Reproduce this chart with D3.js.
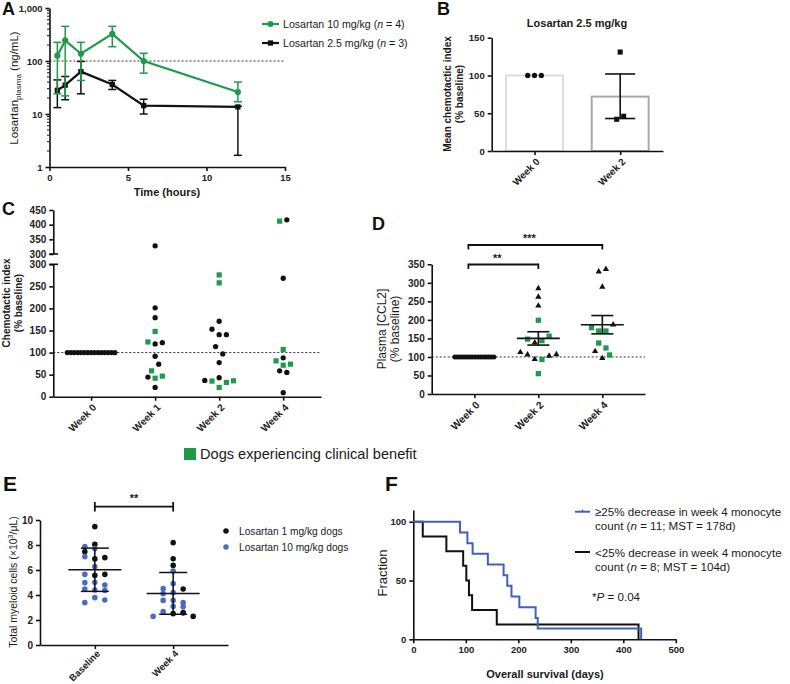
<!DOCTYPE html>
<html><head><meta charset="utf-8">
<script src="https://cdn.jsdelivr.net/npm/d3@7"></script>
<style>body{margin:0;background:#fff}svg{display:block}</style>
</head><body><svg id="c" width="790" height="684"></svg>
<script>
// ===== DATA =====
// Panel A: pharmacokinetics
const pkTimes = [0.5, 1, 2, 4, 6, 12];
const pk10Mean = [126, 245, 137, 324, 100, 26];
const pk10Low  = [24, 22, 43, 186, 59, 17];
const pk10High = [225, 451, 225, 451, 140, 40];
const pk25Mean = [28, 35, 63, 36, 14.4, 13.6];
const pk25Low  = [13.2, 18.6, 24, 29, 10, 1.66];
const pk25High = [44, 51, 98, 43, 19, 14];
const aXTicks = [0, 5, 10, 15];
const aYTicks = [1, 10, 100, 1000];
const aLegend = ["Losartan 10 mg/kg", "Losartan 2.5 mg/kg"];
const aLegendN = ["4", "3"];

// Panel B
const bCats = ["Week 0", "Week 2"];
const bMeans = [100, 72];
const bSemLow = [null, 43];
const bSemHigh = [null, 102];
const bWeek0Vals = [100, 100, 100];
const bWeek0Slots = [-2, 0, 2];
const bWeek2Vals = [131, 42, 46];
const bWeek2Slots = [0, -1, 1];
const bYTicks = [0, 50, 100, 150];

// Panel C: chemotactic index (g = clinical benefit dog)
const cCats = ["Week 0", "Week 1", "Week 2", "Week 4"];
const cWeek0Vals = [100,100,100,100,100,100,100,100,100,100,100,100,100,100,100];
const cWeek1Vals = [328, 201.5, 179, 148, 124, 119.5, 122.5, 91.7, 73.7, 58.6, 46.6, 42, 44.4, 21];
const cWeek1Grp  = ["b","b","b","g","g","b","b","b","b","g","g","g","b","b"];
const cWeek1Slot = [0, 0, 0, 0, -2, 0, 2, 0, 1, -1, 2, 0, -2, 0];
const cWeek2Vals = [276, 258, 171, 153, 140.6, 140.6, 113.5, 97, 77.4, 42.9, 36.8, 35.3, 21, 32.3, 36];
const cWeek2Grp  = ["g","g","b","b","b","b","b","b","b","b","b","g","g","g","g"];
const cWeek2Slot = [0, 0, 0, -2, 0, 2, -1, 1, 0, 0, -4, -2, 0, 2, 4];
const cWeek4Vals = [412, 416.5, 268.4, 106.8, 88, 81.2, 71.4, 73.7, 58.6, 54.9, 9];
const cWeek4Grp  = ["g","b","b","g","b","g","g","g","b","b","b"];
const cWeek4Slot = [-1, 1, 0, 0, 0, -2, 0, 2, -1, 1, 0];
const cLowTicks = [0, 50, 100, 150, 200, 250, 300];
const cHighTicks = [300, 350, 400, 450];

// Panel D: plasma CCL2 (t = triangle, g = clinical benefit)
const dCats = ["Week 0", "Week 2", "Week 4"];
const dWeek0Vals = [100,100,100,100,100,100,100,100,100,100,100,100,100,100,100,100];
const dWeek2Vals = [285, 262, 238, 199, 148, 144, 156, 138.5, 112.5, 106, 93.6, 93, 102.6, 107, 55];
const dWeek2Grp  = ["t","t","t","g","g","g","g","t","t","t","t","g","t","t","g"];
const dWeek2Slot = [0, 0, 0, 0, -3, 1, 3, -1, -5, -3, -1, 1, 3, 5, 0];
const dWeek4Vals = [330, 337, 289, 187, 179, 170, 170, 137.6, 124.2, 115.2, 105.3, 96.3];
const dWeek4Grp  = ["t","t","t","t","g","g","g","g","g","t","g","t"];
const dWeek4Slot = [-1, 1, 0, 3, -3, -1, 1, -1, 1, -2, 2, 0];
const dMeans = [150, 187];
const dSem = [18, 24.7];
const dYTicks = [0, 50, 100, 150, 200, 250, 300, 350];

// Panel E: total myeloid cells (k = 1 mg/kg black, u = 10 mg/kg blue)
const eCats = ["Baseline", "Week 4"];
const eBaseVals = [9.47, 8.05, 7.87, 7.71, 7.47, 7.07, 6.89, 6.99, 6.27, 5.65, 5.57, 5.65, 4.99, 5.01, 4.48, 4.8, 4.4, 4.37, 3.79, 3.39, 3.6];
const eBaseGrp  = ["k","k","u","u","k","u","k","k","u","u","k","k","u","u","u","u","u","u","u","u","u"];
const eBaseSlot = [0, 0, -1, 0, -1, -1, 0, 1, 0, -1, 0, 1, -1, 0, -1, 1, 0, 1, 0, -1, 1];
const eW4Vals = [8.19, 6.9, 6.37, 5.92, 4.91, 4.51, 4.48, 4.11, 4.19, 3.57, 3.57, 3.39, 3.09, 3.07, 2.67, 2.61, 2.51, 2.57, 2.29, 2.29];
const eW4Grp  = ["k","k","k","u","u","u","k","u","u","u","u","u","u","u","u","u","k","k","u","k"];
const eW4Slot = [0, 0, 0, 0, 0, -1, 1, -1, 0, -1, 0, 1, 0, 1, -1, 1, 0, 1, -2, 2];
const eMeans = [6.02, 4.13];
const eSD = [1.73, 1.67];
const eYTicks = [0, 2, 4, 6, 8, 10];
const eLegend = ["Losartan 1 mg/kg dogs", "Losartan 10 mg/kg dogs"];

// Panel F: survival (days of death)
const fHighDrop = [89, 103, 113, 142, 172, 179, 187, 202, 233, 237, 434];
const fLowDrop = [18, 63, 95, 101, 106, 112, 159, 429];
const fXTicks = [0, 100, 200, 300, 400, 500];
const fYTicks = [0, 50, 100];

// ===== STYLE =====
const FONT = '"Liberation Sans", Arial, Helvetica, sans-serif';
const GREEN = "#1f9a4c";
const BLUE = "#4a6cbd";
const FBLUE = "#3f62b8";
const INK = "#111";
const svg = d3.select("#c");

function styleAxis(g, fs) {
  g.attr("font-family", FONT).attr("font-size", fs || 9.5).attr("font-weight", "bold");
  g.select(".domain").attr("stroke", INK).attr("stroke-width", 1.6);
  g.selectAll(".tick line").attr("stroke", INK).attr("stroke-width", 1.6);
  g.selectAll(".tick text").attr("fill", "#222");
}
function rotLabels(g, dy) {
  g.selectAll(".tick text").attr("text-anchor", "end").attr("x", 0).attr("y", 0)
    .attr("dy", "0.35em").attr("transform", `translate(3,${dy || 9}) rotate(-45)`);
}
function txt(x, y, s, o) {
  o = o || {};
  const t = svg.append("text").attr("x", x).attr("y", y).text(s)
    .attr("font-family", FONT).attr("font-size", o.fs || 11)
    .attr("font-weight", o.bold ? "bold" : "normal")
    .attr("text-anchor", o.anchor || "start").attr("fill", o.fill || "#1a1a1a");
  if (o.rot) t.attr("transform", `rotate(-90,${x},${y})`);
  return t;
}
function sym(g, type, x, y, size, fill) {
  g.append("path").attr("d", d3.symbol().type(type).size(size)())
    .attr("transform", `translate(${x},${y})`).attr("fill", fill);
}
function dashed(x1, x2, y) {
  svg.append("line").attr("x1", x1).attr("x2", x2).attr("y1", y).attr("y2", y)
    .attr("stroke", "#333").attr("stroke-width", 1).attr("stroke-dasharray", "2,2");
}
function hline(x1, x2, y, w) {
  svg.append("line").attr("x1", x1).attr("x2", x2).attr("y1", y).attr("y2", y)
    .attr("stroke", INK).attr("stroke-width", w || 1.6);
}
function vline(x, y1, y2, w, c) {
  svg.append("line").attr("x1", x).attr("x2", x).attr("y1", y1).attr("y2", y2)
    .attr("stroke", c || INK).attr("stroke-width", w || 1.6);
}

// panel letters
[["A",2,15,18],["B",437,15,18],["C",2,215,18],["D",372,230,18],["E",3,491,21],["F",385,491,21]]
  .forEach(([l,x,y,fs]) => txt(x, y, l, {fs: fs, bold: true, fill: "#111"}));

// ===== PANEL A =====
(function(){
  const x = d3.scaleLinear().domain([0, 15]).range([49.5, 285]);
  const y = d3.scaleLog().domain([1, 1000]).range([167, 8]);
  dashed(x(0), x(15), y(100));
  const minor = [];
  [1, 10, 100].forEach(d => { for (let k = 2; k <= 9; k++) minor.push(d * k); });
  svg.append("g").selectAll("line").data(minor).join("line")
    .attr("x1", x(0) - 2.5).attr("x2", x(0)).attr("y1", d => y(d)).attr("y2", d => y(d))
    .attr("stroke", INK).attr("stroke-width", 1);
  const gx = svg.append("g").attr("transform", `translate(0,${y(1)})`)
    .call(d3.axisBottom(x).tickValues(aXTicks).tickSize(4).tickSizeOuter(0));
  styleAxis(gx, 9.5);
  const gy = svg.append("g").attr("transform", `translate(${x(0)},0)`)
    .call(d3.axisLeft(y).tickValues(aYTicks).tickFormat(d3.format(",")).tickSize(4).tickSizeOuter(0));
  styleAxis(gy, 9.5);

  function series(mean, lo, hi, color, marker) {
    const g = svg.append("g");
    pkTimes.forEach((t, i) => {
      const cx = x(t);
      g.append("line").attr("x1", cx).attr("x2", cx).attr("y1", y(lo[i])).attr("y2", y(hi[i])).attr("stroke", color).attr("stroke-width", 1.5);
      [lo[i], hi[i]].forEach(v => g.append("line").attr("x1", cx - 4).attr("x2", cx + 4).attr("y1", y(v)).attr("y2", y(v)).attr("stroke", color).attr("stroke-width", 1.5));
    });
    g.append("path").datum(pkTimes.map((t, i) => [t, mean[i]]))
      .attr("d", d3.line().x(d => x(d[0])).y(d => y(d[1])))
      .attr("fill", "none").attr("stroke", color).attr("stroke-width", 2.2);
    pkTimes.forEach((t, i) => sym(g, marker, x(t), y(mean[i]), marker === d3.symbolCircle ? 30 : 28, color));
  }
  series(pk25Mean, pk25Low, pk25High, INK, d3.symbolSquare);
  series(pk10Mean, pk10Low, pk10High, GREEN, d3.symbolCircle);

  // legend
  const cols = [GREEN, INK], marks = [d3.symbolCircle, d3.symbolSquare];
  aLegend.forEach((s, i) => {
    const yy = 24 + i * 19;
    svg.append("line").attr("x1", 262).attr("x2", 279).attr("y1", yy).attr("y2", yy).attr("stroke", cols[i]).attr("stroke-width", 2.2);
    sym(svg, marks[i], 270.5, yy, 28, cols[i]);
    const t = txt(283, yy + 4, s + " (", {fs: 10.6});
    t.append("tspan").attr("font-style", "italic").text("n");
    t.append("tspan").text(" = " + aLegendN[i] + ")");
  });

  // axis titles
  const yl = txt(18, 88, "Losartan", {fs: 11.5, anchor: "middle", rot: true});
  yl.text(null);
  yl.append("tspan").text("Losartan");
  yl.append("tspan").attr("font-size", 8).attr("dy", 3).text("plasma");
  yl.append("tspan").attr("dy", -3).text(" (ng/mL)");
  txt(167, 196, "Time (hours)", {fs: 11, bold: true, anchor: "middle"});
})();

// ===== PANEL B =====
(function(){
  const x = d3.scalePoint().domain(bCats).range([491.7, 663]).padding(0.5);
  const y = d3.scaleLinear().domain([0, 150]).range([151, 37.7]);
  const barW = 57, strokes = ["#dcdcdc", "#a9a9a9"];
  bCats.forEach((c, i) => {
    svg.append("rect").attr("x", x(c) - barW / 2).attr("width", barW)
      .attr("y", y(bMeans[i])).attr("height", y(0) - y(bMeans[i]))
      .attr("fill", "#fff").attr("stroke", strokes[i]).attr("stroke-width", 2);
  });
  const gx = svg.append("g").attr("transform", `translate(0,${y(0)})`)
    .call(d3.axisBottom(x).tickSize(4).tickSizeOuter(0));
  styleAxis(gx, 9.8); rotLabels(gx);
  const gy = svg.append("g").attr("transform", `translate(491.7,0)`)
    .call(d3.axisLeft(y).tickValues(bYTicks).tickSize(4).tickSizeOuter(0));
  styleAxis(gy, 9.5);
  const c2 = x("Week 2");
  vline(c2, y(bSemLow[1]), y(bSemHigh[1]), 1.6);
  hline(c2 - 15, c2 + 15, y(bSemLow[1]));
  hline(c2 - 15, c2 + 15, y(bSemHigh[1]));
  const g = svg.append("g");
  bWeek0Vals.forEach((v, i) => sym(g, d3.symbolCircle, x("Week 0") + bWeek0Slots[i] * 3.4, y(v), 22, INK));
  bWeek2Vals.forEach((v, i) => sym(g, d3.symbolSquare, c2 + bWeek2Slots[i] * 3.5, y(v), 26, INK));
  txt(577, 27, "Losartan 2.5 mg/kg", {fs: 11, bold: true, anchor: "middle"});
  txt(451, 94, "Mean chemotactic index", {fs: 10, bold: true, anchor: "middle", rot: true});
  txt(463, 94, "(% baseline)", {fs: 10, bold: true, anchor: "middle", rot: true});
})();

// ===== PANEL C =====
(function(){
  const x = d3.scalePoint().domain(cCats).range([53.3, 321]).padding(0.59);
  const yLow = d3.scaleLinear().domain([0, 300]).range([396.7, 264.3]);
  const yHigh = d3.scaleLinear().domain([300, 450]).range([254, 210]);
  const yOf = v => v > 300 ? yHigh(v) : yLow(v);
  dashed(53.3, 321, yLow(100));
  const gx = svg.append("g").attr("transform", `translate(0,${yLow(0)})`)
    .call(d3.axisBottom(x).tickSize(4).tickSizeOuter(0));
  styleAxis(gx, 10); rotLabels(gx);
  const gy1 = svg.append("g").attr("transform", `translate(53.3,0)`)
    .call(d3.axisLeft(yLow).tickValues(cLowTicks).tickSize(4).tickSizeOuter(0));
  styleAxis(gy1, 10);
  const gy2 = svg.append("g").attr("transform", `translate(53.3,0)`)
    .call(d3.axisLeft(yHigh).tickValues(cHighTicks).tickSize(4).tickSizeOuter(0));
  styleAxis(gy2, 10);
  // break marks
  hline(49.3, 58, yLow(300), 1.6);
  hline(49.3, 58, yHigh(300), 1.6);

  const g = svg.append("g");
  const U = 3.6;
  cWeek0Vals.forEach((v, i) => sym(g, d3.symbolCircle, x("Week 0") + (i - 7) * 3.4, yOf(v), 21, INK));
  function plot(cat, vals, grp, slot) {
    vals.forEach((v, i) => {
      const cx = x(cat) + slot[i] * U, cy = yOf(v);
      if (grp[i] === "g") sym(g, d3.symbolSquare, cx, cy, 27, GREEN);
      else sym(g, d3.symbolCircle, cx, cy, 22, INK);
    });
  }
  plot("Week 1", cWeek1Vals, cWeek1Grp, cWeek1Slot);
  plot("Week 2", cWeek2Vals, cWeek2Grp, cWeek2Slot);
  plot("Week 4", cWeek4Vals, cWeek4Grp, cWeek4Slot);
  txt(10, 303, "Chemotactic index", {fs: 10, bold: true, anchor: "middle", rot: true});
  txt(22, 303, "(% baseline)", {fs: 10, bold: true, anchor: "middle", rot: true});
  // shared legend
  svg.append("rect").attr("x", 184).attr("y", 448).attr("width", 12).attr("height", 12).attr("fill", GREEN);
  txt(200, 459, "Dogs experiencing clinical benefit", {fs: 14.6});
})();

// ===== PANEL D =====
(function(){
  const x = d3.scalePoint().domain(dCats).range([431.7, 645]).padding(0.667);
  const y = d3.scaleLinear().domain([0, 350]).range([394, 264.3]);
  dashed(431.7, 645, y(100));
  const gx = svg.append("g").attr("transform", `translate(0,${y(0)})`)
    .call(d3.axisBottom(x).tickSize(4).tickSizeOuter(0));
  styleAxis(gx, 10.4); rotLabels(gx);
  const gy = svg.append("g").attr("transform", `translate(431.7,0)`)
    .call(d3.axisLeft(y).tickValues(dYTicks).tickSize(4).tickSizeOuter(0));
  styleAxis(gy, 10);
  const g = svg.append("g");
  dWeek0Vals.forEach((v, i) => sym(g, d3.symbolCircle, x("Week 0") + (i - 7.5) * 2.6, y(v), 20, INK));
  const U = 3.6;
  function plot(cat, vals, grp, slot) {
    vals.forEach((v, i) => {
      const cx = x(cat) + slot[i] * U, cy = y(v);
      if (grp[i] === "g") sym(g, d3.symbolSquare, cx, cy, 28, GREEN);
      else sym(g, d3.symbolTriangle, cx, cy, 17, INK);
    });
  }
  plot("Week 2", dWeek2Vals, dWeek2Grp, dWeek2Slot);
  plot("Week 4", dWeek4Vals, dWeek4Grp, dWeek4Slot);
  ["Week 2", "Week 4"].forEach((c, i) => {
    const cx = x(c);
    hline(cx - 21.5, cx + 21.5, y(dMeans[i]), 1.6);
    vline(cx, y(dMeans[i] - dSem[i]), y(dMeans[i] + dSem[i]), 1.6);
    hline(cx - 11, cx + 11, y(dMeans[i] - dSem[i]), 1.6);
    hline(cx - 11, cx + 11, y(dMeans[i] + dSem[i]), 1.6);
  });
  // significance brackets
  function bracket(x1, x2, yy, label) {
    svg.append("path").attr("d", `M${x1},${yy + 4.5}V${yy}H${x2}V${yy + 4.5}`)
      .attr("fill", "none").attr("stroke", INK).attr("stroke-width", 1.8);
    txt((x1 + x2) / 2 - 6, yy - 3, label, {fs: 11, bold: true, anchor: "middle"});
  }
  bracket(x("Week 0") - 6, x("Week 2"), 264.5, "**");
  bracket(x("Week 0") - 6, x("Week 4"), 245, "***");
  txt(386, 329, "Plasma [CCL2]", {fs: 12, anchor: "middle", rot: true});
  txt(399, 329, "(% baseline)", {fs: 12, anchor: "middle", rot: true});
})();

// ===== PANEL E =====
(function(){
  const x = d3.scalePoint().domain(eCats).range([40, 228]).padding(0.7);
  const y = d3.scaleLinear().domain([0, 10]).range([645, 520]);
  const gx = svg.append("g").attr("transform", `translate(0,${y(0)})`)
    .call(d3.axisBottom(x).tickSize(4).tickSizeOuter(0));
  styleAxis(gx, 9.5); rotLabels(gx, 7);
  const gy = svg.append("g").attr("transform", `translate(40,0)`)
    .call(d3.axisLeft(y).tickValues(eYTicks).tickSize(4).tickSizeOuter(0));
  styleAxis(gy, 10);
  const g = svg.append("g");
  const U = 10;
  function plot(cat, vals, grp, slot) {
    vals.forEach((v, i) => sym(g, d3.symbolCircle, x(cat) + slot[i] * U, y(v), 24, grp[i] === "k" ? INK : BLUE));
  }
  plot("Baseline", eBaseVals, eBaseGrp, eBaseSlot);
  plot("Week 4", eW4Vals, eW4Grp, eW4Slot);
  eCats.forEach((c, i) => {
    const cx = x(c);
    hline(cx - 26.5, cx + 26.5, y(eMeans[i]), 1.5);
    vline(cx, y(eMeans[i] - eSD[i]), y(eMeans[i] + eSD[i]), 1.5);
    hline(cx - 14, cx + 14, y(eMeans[i] - eSD[i]), 1.5);
    hline(cx - 14, cx + 14, y(eMeans[i] + eSD[i]), 1.5);
  });
  // bracket
  const x1 = x("Baseline"), x2 = x("Week 4");
  hline(x1, x2, 506.7, 1.8);
  vline(x1, 502, 511.5, 1.8); vline(x2, 502, 511.5, 1.8);
  txt((x1 + x2) / 2, 502, "**", {fs: 11, bold: true, anchor: "middle"});
  // legend
  const lc = [INK, BLUE];
  eLegend.forEach((s, i) => {
    sym(svg, d3.symbolCircle, 226, 531 + i * 16, 24, lc[i]);
    txt(239, 535 + i * 16, s, {fs: 10.2});
  });
  const t = txt(17, 582, "", {fs: 10.5, anchor: "middle", rot: true});
  t.append("tspan").text("Total myeloid cells (\u00d710");
  t.append("tspan").attr("font-size", 7).attr("dy", -4).text("3");
  t.append("tspan").attr("dy", 4).text("/\u03bcL)");
})();

// ===== PANEL F =====
(function(){
  const x = d3.scaleLinear().domain([0, 500]).range([413.3, 675.8]);
  const y = d3.scaleLinear().domain([0, 110]).range([639.3, 510]);
  const gx = svg.append("g").attr("transform", `translate(0,${y(0)})`)
    .call(d3.axisBottom(x).tickValues(fXTicks).tickSize(4).tickSizeOuter(0));
  styleAxis(gx, 9.5);
  const gy = svg.append("g").attr("transform", `translate(${x(0)},0)`)
    .call(d3.axisLeft(y).tickValues(fYTicks).tickSize(4).tickSizeOuter(0));
  styleAxis(gy, 9.5);
  function km(drops) {
    const n = drops.length, pts = [[0, 100]];
    drops.slice().sort((a, b) => a - b).forEach((d, i) => pts.push([d, 100 * (n - i - 1) / n]));
    return pts;
  }
  const line = d3.line().x(d => x(d[0])).y(d => y(d[1])).curve(d3.curveStepAfter);
  svg.append("path").attr("d", line(km(fLowDrop))).attr("fill", "none").attr("stroke", INK).attr("stroke-width", 2);
  svg.append("path").attr("d", line(km(fHighDrop))).attr("fill", "none").attr("stroke", FBLUE).attr("stroke-width", 2);
  // legend
  svg.append("line").attr("x1", 575).attr("x2", 590).attr("y1", 511.7).attr("y2", 511.7).attr("stroke", FBLUE).attr("stroke-width", 2);
  vline(582.5, 509.5, 511.7, 1.2, FBLUE);
  txt(595, 516, "\u226525% decrease in week 4 monocyte", {fs: 11.6});
  let t = txt(595, 529.5, "count (", {fs: 11.6});
  t.append("tspan").attr("font-style", "italic").text("n");
  t.append("tspan").text(" = 11; MST = 178d)");
  svg.append("line").attr("x1", 575).attr("x2", 590).attr("y1", 552).attr("y2", 552).attr("stroke", INK).attr("stroke-width", 2);
  txt(595, 557, "<25% decrease in week 4 monocyte", {fs: 11.6});
  t = txt(595, 570.5, "count (", {fs: 11.6});
  t.append("tspan").attr("font-style", "italic").text("n");
  t.append("tspan").text(" = 8; MST = 104d)");
  t = txt(592, 601, "*", {fs: 11.6});
  t.append("tspan").attr("font-style", "italic").text("P");
  t.append("tspan").text(" = 0.04");
  txt(387, 573, "Fraction", {fs: 13, anchor: "middle", rot: true});
  txt(545, 678, "Overall survival (days)", {fs: 11, bold: true, anchor: "middle"});
})();
</script></body></html>
